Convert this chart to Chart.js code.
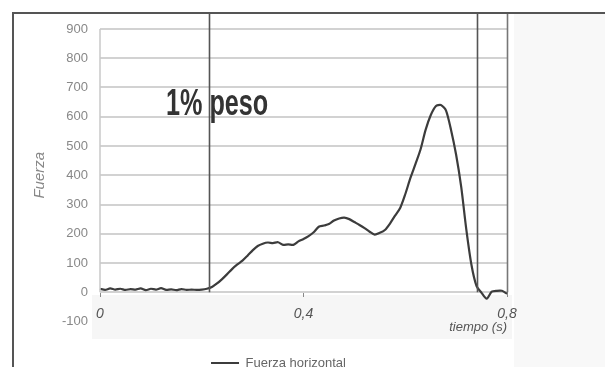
<!DOCTYPE html>
<html>
<head>
<meta charset="utf-8">
<script src="https://cdn.jsdelivr.net/npm/chart.js@4.4.1/dist/chart.umd.min.js"></script>
<style>
  html, body { margin: 0; padding: 0; background: #fff; }
  #wrap { width: 605px; height: 367px; position: relative; }
</style>
</head>
<body>
<div id="wrap"><canvas id="forceChart"></canvas></div>
<script>
// Tiempo (s) and fuerza horizontal
const times = [
  0.00, 0.01, 0.02, 0.03, 0.04, 0.05, 0.06, 0.07, 0.08, 0.09,
  0.10, 0.11, 0.12, 0.13, 0.14, 0.15, 0.16, 0.17, 0.18, 0.19,
  0.20, 0.21, 0.22, 0.23, 0.24, 0.25, 0.26, 0.27, 0.28, 0.29,
  0.30, 0.31, 0.32, 0.33, 0.34, 0.35, 0.36, 0.37, 0.38, 0.39,
  0.40, 0.41, 0.42, 0.43, 0.44, 0.45, 0.46, 0.47, 0.48, 0.49,
  0.50, 0.51, 0.52, 0.53, 0.54, 0.55, 0.56, 0.57, 0.58, 0.59,
  0.60, 0.61, 0.62, 0.63, 0.64, 0.65, 0.66, 0.67, 0.68, 0.69,
  0.70, 0.71, 0.72, 0.73, 0.74, 0.75, 0.76, 0.77, 0.78, 0.79,
  0.80
];
const forces = [
  12, 8, 13, 9, 12, 8, 11, 9, 13, 7,
  12, 9, 14, 8, 10, 7, 11, 8, 9, 8,
  9, 12, 18, 30, 45, 62, 80, 95, 108, 125,
  143, 158, 166, 170, 168, 171, 162, 164, 162, 174,
  182, 192, 205, 224, 228, 233, 245, 252, 255, 250,
  240, 230, 219, 207, 197, 203, 213, 235, 262, 288,
  335, 390, 438, 488, 555, 605, 636, 640, 622, 555,
  470, 360, 215, 95, 22, -2, -22, 2, 5, 5,
  -5
];
const seriesLabel = "Fuerza horizontal";
const timeTicks = [0, 0.4, 0.8];
const markerTimes = [0.214, 0.741, 0.8]; // vertical lines
const noteText = "1% peso";

const FONT = "'Liberation Sans', Arial, sans-serif";

// frame, background bands, vertical markers and the note
const decorations = {
  id: "decorations",
  beforeDraw(chart) {
    const { ctx } = chart;
    ctx.save();
    ctx.fillStyle = "#f8f8f8";
    ctx.fillRect(514, 13, 91, 354);
    ctx.fillStyle = "#f6f6f6";
    ctx.fillRect(92, 295, 420, 44);
    ctx.restore();
  },
  afterDatasetsDraw(chart) {
    const { ctx, scales: { x, y } } = chart;
    const y0 = y.getPixelForValue(0);
    ctx.save();
    // left axis line
    ctx.strokeStyle = "#c8c8c8";
    ctx.lineWidth = 1.5;
    ctx.beginPath();
    ctx.moveTo(x.getPixelForValue(0), y.getPixelForValue(900));
    ctx.lineTo(x.getPixelForValue(0), y0);
    ctx.stroke();
    // markers
    markerTimes.forEach((t, i) => {
      const px = Math.round(x.getPixelForValue(t)) + 0.5;
      ctx.strokeStyle = i === markerTimes.length - 1 ? "#777" : "#555";
      ctx.lineWidth = 1.6;
      ctx.beginPath();
      ctx.moveTo(px, 13);
      ctx.lineTo(px, y0);
      ctx.stroke();
    });
    // outer frame
    ctx.strokeStyle = "#555";
    ctx.lineWidth = 2;
    ctx.beginPath();
    ctx.moveTo(13, 367);
    ctx.lineTo(13, 13);
    ctx.lineTo(605, 13);
    ctx.stroke();
    // note
    ctx.fillStyle = "#333";
    ctx.font = "bold 36px " + FONT;
    ctx.textBaseline = "alphabetic";
    ctx.translate(166, 115);
    ctx.scale(0.7, 1);
    ctx.fillText(noteText, 0, 0);
    ctx.restore();
  }
};

new Chart(document.getElementById("forceChart"), {
  type: "line",
  data: {
    datasets: [{
      label: seriesLabel,
      data: times.map((t, i) => ({ x: t, y: forces[i] })),
      borderColor: "#3c3c3c",
      backgroundColor: "#3c3c3c",
      borderWidth: 2.2,
      pointRadius: 0,
      tension: 0.25,
      clip: false
    }]
  },
  options: {
    responsive: true,
    maintainAspectRatio: false,
    animation: false,
    layout: { padding: { left: 50, right: 98, top: 29, bottom: -12.5 } },
    plugins: {
      tooltip: { enabled: false },
      legend: {
        position: "bottom",
        labels: {
          color: "#666",
          font: { family: FONT, size: 13 },
          usePointStyle: true,
          pointStyle: "line",
          pointStyleWidth: 28,
          padding: 35
        }
      }
    },
    scales: {
      x: {
        type: "linear",
        position: { y: 0 },
        min: 0,
        max: 0.8,
        afterBuildTicks: (s) => { s.ticks = timeTicks.map(v => ({ value: v })); },
        afterFit: (s) => { s.height = 30.5; },
        grid: { drawOnChartArea: false, drawTicks: true, tickLength: 5, color: "#888" },
        border: { display: false },
        ticks: {
          color: "#555",
          padding: 8,
          font: { family: FONT, size: 14, style: "italic" },
          callback: (v) => String(v).replace(".", ",")
        },
        title: {
          display: true,
          text: "tiempo (s)",
          align: "end",
          color: "#555",
          font: { family: FONT, size: 13, style: "italic" },
          padding: { top: 0, bottom: -12.5 }
        }
      },
      y: {
        min: -100,
        max: 900,
        afterFit: (s) => { s.width = 50; },
        ticks: {
          stepSize: 100,
          color: "#888",
          padding: 12,
          font: { family: FONT, size: 13 }
        },
        grid: {
          drawTicks: false,
          lineWidth: 2,
          color: (c) => c.tick && c.tick.value === -100 ? "rgba(0,0,0,0)" : "#d2d2d2"
        },
        border: { display: false },
        title: {
          display: true,
          text: "Fuerza",
          color: "#888",
          font: { family: FONT, size: 15, style: "italic" },
          padding: { top: -19, bottom: 0 }
        }
      }
    }
  },
  plugins: [decorations]
});
</script>
</body>
</html>
